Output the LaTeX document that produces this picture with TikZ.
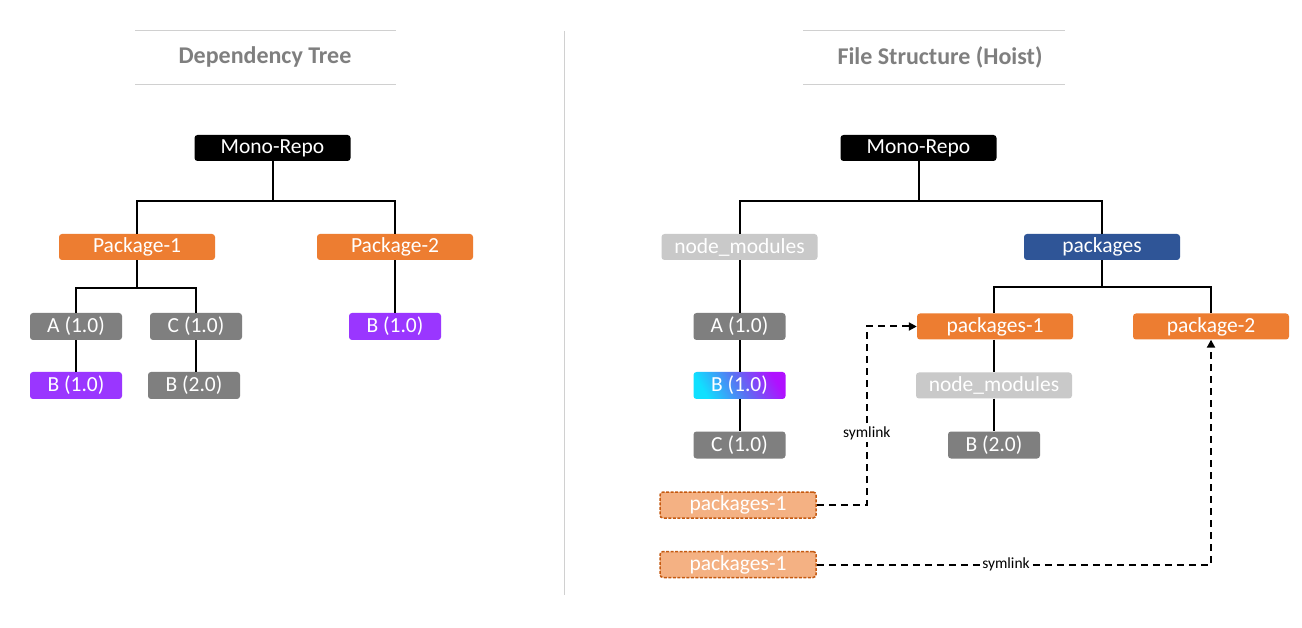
\documentclass[tikz,border=0pt]{standalone}
\usepackage{fontspec}
\setmainfont{Carlito}
\usetikzlibrary{arrows.meta}
\definecolor{orng}{HTML}{ED7D31}
\definecolor{purp}{HTML}{9A36FF}
\definecolor{gry}{HTML}{7F7F7F}
\definecolor{lgry}{HTML}{C9C9C9}
\definecolor{blu}{HTML}{2F5597}
\definecolor{peach}{HTML}{F4B183}
\definecolor{rust}{HTML}{C55A11}
\definecolor{rulegray}{HTML}{D0D0D0}
\definecolor{titlegray}{HTML}{7F7F7F}
\definecolor{gcyan}{HTML}{10E0FF}
\definecolor{gmid}{HTML}{5A72F2}
\definecolor{gpurp}{HTML}{B010FF}
\begin{document}
\begin{tikzpicture}[x=1pt,y=-1pt,
  box/.style={rounded corners=3pt, minimum width=156pt, minimum height=26pt, inner sep=0pt, text=white, font=\fontsize{21.5}{24}\selectfont},
  sbox/.style={box, minimum width=92pt, minimum height=27pt},
  dbox/.style={box, fill=peach, draw=rust, line width=1.5pt, dash pattern=on 3pt off 1.5pt},
  conn/.style={line width=2pt},
  link/.style={line width=2pt, dash pattern=on 7pt off 5pt, -{Triangle[length=8pt,width=8pt]}},
  lbl/.style={fill=white, inner sep=2pt, text=black, font=\fontsize{15.5}{18}\selectfont},
  ttl/.style={text=titlegray, font=\fontsize{24}{28}\selectfont\bfseries},
  rule/.style={draw=rulegray, line width=1pt}]
\fill[white] (0,0) rectangle (1302,628);
% titles
\draw[rule] (135,31) -- (396,31);
\draw[rule] (135,85) -- (396,85);
\node[ttl] (t1) at (265,57) {Dependency Tree};
\draw[rule] (803,31) -- (1065,31);
\draw[rule] (803,85) -- (1065,85);
\node[ttl] (t2) at (940,57) {File Structure (Hoist)};
\draw[rule] (564,31) -- (564,595);
% left tree
\node[box, fill=black] (lmr) at (272.5,148) {Mono-Repo};
\node[box, fill=orng] (lp1) at (137,247) {Package-1};
\node[box, fill=orng] (lp2) at (395,247) {Package-2};
\node[sbox, fill=gry] (la) at (76,326.5) {A (1.0)};
\node[sbox, fill=gry] (lc) at (196,326.5) {C (1.0)};
\node[sbox, fill=purp] (lb1) at (76,385.5) {B (1.0)};
\node[sbox, fill=gry] (lb2) at (194,385.5) {B (2.0)};
\node[sbox, fill=purp] (lb3) at (395,326.5) {B (1.0)};
\draw[conn] (lmr.south) -- ++(0,40) -| (lp1.north);
\draw[conn] (lmr.south) -- ++(0,40) -| (lp2.north);
\draw[conn] (lp1.south) -- ++(0,28) -| (la.north);
\draw[conn] (lp1.south) -- ++(0,28) -| (lc.north);
\draw[conn] (la) -- (lb1);
\draw[conn] (lc.south) -- (lc.south |- lb2.north);
\draw[conn] (lp2) -- (lb3);
% right tree
\node[box, fill=black] (rmr) at (918.5,148) {Mono-Repo};
\node[box, fill=lgry] (rnm) at (739.5,247) {node\_modules};
\node[box, fill=blu] (rpk) at (1102,247) {packages};
\node[sbox, fill=gry] (ra) at (739.5,326.5) {A (1.0)};
\node[sbox, left color=gcyan, right color=gpurp, middle color=gmid, shading angle=120] (rb) at (739.5,385.5) {B (1.0)};
\node[sbox, fill=gry] (rc) at (739.5,445) {C (1.0)};
\node[dbox] (d1) at (738,505) {packages-1};
\node[dbox] (d2) at (738,564.5) {packages-1};
\node[box, fill=orng] (q1) at (995,326.5) {packages-1};
\node[box, fill=orng] (q2) at (1211,326.5) {package-2};
\node[box, fill=lgry] (rnm2) at (994,385.5) {node\_modules};
\node[sbox, fill=gry] (rb2) at (994,445) {B (2.0)};
\draw[conn] (rmr.south) -- ++(0,40) -| (rnm.north);
\draw[conn] (rmr.south) -- ++(0,40) -| (rpk.north);
\draw[conn] (rnm) -- (ra);
\draw[conn] (ra) -- (rb);
\draw[conn] (rb) -- (rc);
\draw[conn] (rpk.south) -- ++(0,27) -| (rnm2.north |- q1.north);
\draw[conn] (rpk.south) -- ++(0,27) -| (q2.north);
\draw[conn] (rnm2.north |- q1.south) -- (rnm2.north);
\draw[conn] (rnm2) -- (rb2);
\draw[link] (d1.east) -- ++(50,0) |- node[lbl, pos=0.2] {symlink} (q1.west);
\draw[link] (d2.east) -| node[lbl, pos=0.24] {symlink} (q2.south);
\end{tikzpicture}
\end{document}
